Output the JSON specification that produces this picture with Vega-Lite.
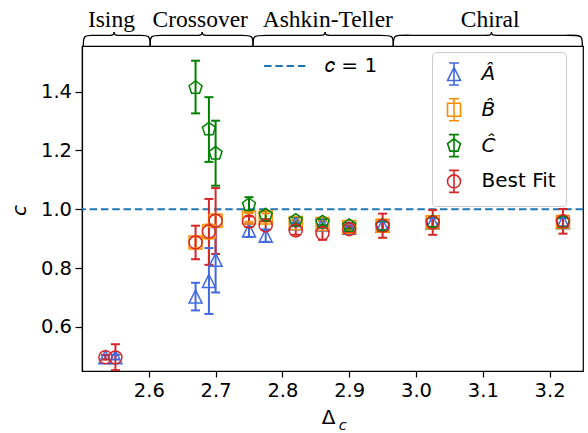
{
  "$schema": "https://vega.github.io/schema/vega-lite/v6.json",
  "width": 501,
  "height": 325,
  "autosize": {"type": "none"},
  "padding": {"left": 82, "top": 46, "right": 5, "bottom": 62},
  "background": "white",
  "datasets": {
    "points": [
      {"series": "Â", "delta": 2.535, "c": 0.497, "lo": 0.490, "hi": 0.504},
      {"series": "Â", "delta": 2.55, "c": 0.497, "lo": 0.489, "hi": 0.505},
      {"series": "Â", "delta": 2.67, "c": 0.703, "lo": 0.656, "hi": 0.750},
      {"series": "Â", "delta": 2.69, "c": 0.756, "lo": 0.644, "hi": 0.868},
      {"series": "Â", "delta": 2.70, "c": 0.828, "lo": 0.717, "hi": 0.939},
      {"series": "Â", "delta": 2.75, "c": 0.928, "lo": 0.906, "hi": 0.950},
      {"series": "Â", "delta": 2.775, "c": 0.910, "lo": 0.889, "hi": 0.931},
      {"series": "Â", "delta": 2.82, "c": 0.952, "lo": 0.942, "hi": 0.962},
      {"series": "Â", "delta": 2.86, "c": 0.948, "lo": 0.937, "hi": 0.959},
      {"series": "Â", "delta": 2.90, "c": 0.937, "lo": 0.927, "hi": 0.947},
      {"series": "Â", "delta": 2.95, "c": 0.944, "lo": 0.930, "hi": 0.958},
      {"series": "Â", "delta": 3.025, "c": 0.955, "lo": 0.940, "hi": 0.970},
      {"series": "Â", "delta": 3.22, "c": 0.956, "lo": 0.942, "hi": 0.970},
      {"series": "B̂", "delta": 2.67, "c": 0.887, "lo": 0.867, "hi": 0.907},
      {"series": "B̂", "delta": 2.69, "c": 0.924, "lo": 0.900, "hi": 0.948},
      {"series": "B̂", "delta": 2.70, "c": 0.961, "lo": 0.940, "hi": 0.982},
      {"series": "B̂", "delta": 2.75, "c": 0.972, "lo": 0.957, "hi": 0.987},
      {"series": "B̂", "delta": 2.775, "c": 0.972, "lo": 0.958, "hi": 0.986},
      {"series": "B̂", "delta": 2.82, "c": 0.953, "lo": 0.943, "hi": 0.963},
      {"series": "B̂", "delta": 2.86, "c": 0.950, "lo": 0.939, "hi": 0.961},
      {"series": "B̂", "delta": 2.90, "c": 0.940, "lo": 0.930, "hi": 0.950},
      {"series": "B̂", "delta": 2.95, "c": 0.944, "lo": 0.925, "hi": 0.963},
      {"series": "B̂", "delta": 3.025, "c": 0.956, "lo": 0.935, "hi": 0.977},
      {"series": "B̂", "delta": 3.22, "c": 0.957, "lo": 0.937, "hi": 0.977},
      {"series": "Ĉ", "delta": 2.67, "c": 1.413, "lo": 1.326, "hi": 1.505},
      {"series": "Ĉ", "delta": 2.69, "c": 1.272, "lo": 1.161, "hi": 1.381},
      {"series": "Ĉ", "delta": 2.70, "c": 1.190, "lo": 1.080, "hi": 1.301},
      {"series": "Ĉ", "delta": 2.75, "c": 1.015, "lo": 0.990, "hi": 1.041},
      {"series": "Ĉ", "delta": 2.775, "c": 0.980, "lo": 0.966, "hi": 0.994},
      {"series": "Ĉ", "delta": 2.82, "c": 0.962, "lo": 0.952, "hi": 0.972},
      {"series": "Ĉ", "delta": 2.86, "c": 0.956, "lo": 0.946, "hi": 0.966},
      {"series": "Ĉ", "delta": 2.90, "c": 0.944, "lo": 0.935, "hi": 0.953},
      {"series": "Ĉ", "delta": 2.95, "c": 0.944, "lo": 0.928, "hi": 0.960},
      {"series": "Ĉ", "delta": 3.025, "c": 0.957, "lo": 0.940, "hi": 0.974},
      {"series": "Ĉ", "delta": 3.22, "c": 0.957, "lo": 0.940, "hi": 0.974},
      {"series": "Best Fit", "delta": 2.535, "c": 0.497, "lo": 0.489, "hi": 0.505},
      {"series": "Best Fit", "delta": 2.55, "c": 0.496, "lo": 0.453, "hi": 0.541},
      {"series": "Best Fit", "delta": 2.67, "c": 0.887, "lo": 0.830, "hi": 0.944},
      {"series": "Best Fit", "delta": 2.69, "c": 0.924, "lo": 0.811, "hi": 1.035},
      {"series": "Best Fit", "delta": 2.70, "c": 0.961, "lo": 0.848, "hi": 1.072},
      {"series": "Best Fit", "delta": 2.75, "c": 0.958, "lo": 0.940, "hi": 0.976},
      {"series": "Best Fit", "delta": 2.775, "c": 0.945, "lo": 0.930, "hi": 0.960},
      {"series": "Best Fit", "delta": 2.82, "c": 0.928, "lo": 0.913, "hi": 0.943},
      {"series": "Best Fit", "delta": 2.86, "c": 0.918, "lo": 0.896, "hi": 0.940},
      {"series": "Best Fit", "delta": 2.90, "c": 0.932, "lo": 0.922, "hi": 0.942},
      {"series": "Best Fit", "delta": 2.95, "c": 0.944, "lo": 0.903, "hi": 0.985},
      {"series": "Best Fit", "delta": 3.025, "c": 0.955, "lo": 0.913, "hi": 0.997},
      {"series": "Best Fit", "delta": 3.22, "c": 0.959, "lo": 0.917, "hi": 1.001}
    ],
    "braces": [
      {"part": "Ising-L", "k": 0, "delta": 2.502, "c": 1.555},
      {"part": "Ising-L", "k": 1, "delta": 2.502, "c": 1.593},
      {"part": "Ising-L", "k": 2, "delta": 2.517, "c": 1.591},
      {"part": "Ising-L", "k": 3, "delta": 2.536, "c": 1.591},
      {"part": "Ising-L", "k": 4, "delta": 2.548, "c": 1.591},
      {"part": "Ising-L", "k": 5, "delta": 2.548, "c": 1.603},
      {"part": "Ising-R", "k": 0, "delta": 2.602, "c": 1.555},
      {"part": "Ising-R", "k": 1, "delta": 2.602, "c": 1.593},
      {"part": "Ising-R", "k": 2, "delta": 2.587, "c": 1.591},
      {"part": "Ising-R", "k": 3, "delta": 2.560, "c": 1.591},
      {"part": "Ising-R", "k": 4, "delta": 2.548, "c": 1.591},
      {"part": "Ising-R", "k": 5, "delta": 2.548, "c": 1.603},
      {"part": "Crossover-L", "k": 0, "delta": 2.602, "c": 1.555},
      {"part": "Crossover-L", "k": 1, "delta": 2.602, "c": 1.593},
      {"part": "Crossover-L", "k": 2, "delta": 2.617, "c": 1.591},
      {"part": "Crossover-L", "k": 3, "delta": 2.668, "c": 1.591},
      {"part": "Crossover-L", "k": 4, "delta": 2.680, "c": 1.591},
      {"part": "Crossover-L", "k": 5, "delta": 2.680, "c": 1.603},
      {"part": "Crossover-R", "k": 0, "delta": 2.756, "c": 1.555},
      {"part": "Crossover-R", "k": 1, "delta": 2.756, "c": 1.593},
      {"part": "Crossover-R", "k": 2, "delta": 2.741, "c": 1.591},
      {"part": "Crossover-R", "k": 3, "delta": 2.692, "c": 1.591},
      {"part": "Crossover-R", "k": 4, "delta": 2.680, "c": 1.591},
      {"part": "Crossover-R", "k": 5, "delta": 2.680, "c": 1.603},
      {"part": "AT-L", "k": 0, "delta": 2.756, "c": 1.555},
      {"part": "AT-L", "k": 1, "delta": 2.756, "c": 1.593},
      {"part": "AT-L", "k": 2, "delta": 2.771, "c": 1.591},
      {"part": "AT-L", "k": 3, "delta": 2.852, "c": 1.591},
      {"part": "AT-L", "k": 4, "delta": 2.864, "c": 1.591},
      {"part": "AT-L", "k": 5, "delta": 2.864, "c": 1.603},
      {"part": "AT-R", "k": 0, "delta": 2.966, "c": 1.555},
      {"part": "AT-R", "k": 1, "delta": 2.966, "c": 1.593},
      {"part": "AT-R", "k": 2, "delta": 2.951, "c": 1.591},
      {"part": "AT-R", "k": 3, "delta": 2.876, "c": 1.591},
      {"part": "AT-R", "k": 4, "delta": 2.864, "c": 1.591},
      {"part": "AT-R", "k": 5, "delta": 2.864, "c": 1.603},
      {"part": "Chiral-L", "k": 0, "delta": 2.966, "c": 1.555},
      {"part": "Chiral-L", "k": 1, "delta": 2.966, "c": 1.593},
      {"part": "Chiral-L", "k": 2, "delta": 2.981, "c": 1.591},
      {"part": "Chiral-L", "k": 3, "delta": 3.101, "c": 1.591},
      {"part": "Chiral-L", "k": 4, "delta": 3.113, "c": 1.591},
      {"part": "Chiral-L", "k": 5, "delta": 3.113, "c": 1.603},
      {"part": "Chiral-R", "k": 0, "delta": 3.249, "c": 1.555},
      {"part": "Chiral-R", "k": 1, "delta": 3.249, "c": 1.593},
      {"part": "Chiral-R", "k": 2, "delta": 3.234, "c": 1.591},
      {"part": "Chiral-R", "k": 3, "delta": 3.125, "c": 1.591},
      {"part": "Chiral-R", "k": 4, "delta": 3.113, "c": 1.591},
      {"part": "Chiral-R", "k": 5, "delta": 3.113, "c": 1.603}
    ],
    "regions": [
      {"name": "Ising", "delta": 2.544},
      {"name": "Crossover", "delta": 2.677},
      {"name": "Ashkin-Teller", "delta": 2.868},
      {"name": "Chiral", "delta": 3.111}
    ]
  },
  "layer": [
    {
      "data": {"name": "braces"},
      "mark": {"type": "line", "interpolate": "basis", "color": "black", "strokeWidth": 1.3},
      "encoding": {
        "x": {
          "field": "delta", "type": "quantitative",
          "scale": {"domain": [2.5, 3.25], "nice": false, "zero": false},
          "axis": {
            "title": "Δ", "values": [2.6, 2.7, 2.8, 2.9, 3.0, 3.1, 3.2], "format": ".1f",
            "titleX": 246, "titleY": 52.5, "titleBaseline": "alphabetic", "titleAlign": "center"
          }
        },
        "y": {
          "field": "c", "type": "quantitative",
          "scale": {"domain": [0.45, 1.555], "nice": false, "zero": false},
          "axis": {
            "title": "c", "values": [0.6, 0.8, 1.0, 1.2, 1.4], "format": ".1f",
            "titleFontStyle": "italic", "titleX": -57, "titleY": 164, "titleAngle": -90,
            "titleBaseline": "alphabetic", "titleAlign": "center",
            "tickSize": 7, "labelPadding": 3.5
          }
        },
        "detail": {"field": "part", "type": "nominal"},
        "order": {"field": "k", "type": "quantitative"}
      }
    },
    {
      "data": {"name": "regions"},
      "mark": {"type": "text", "font": "Liberation Serif", "fontSize": 23.5, "baseline": "alphabetic", "align": "center", "color": "black"},
      "encoding": {
        "x": {"field": "delta", "type": "quantitative"},
        "y": {"datum": 1.62, "type": "quantitative"},
        "text": {"field": "name", "type": "nominal"}
      }
    },
    {
      "data": {"values": [{}]},
      "mark": {"type": "text", "fontSize": 14.5, "fontStyle": "italic", "baseline": "alphabetic", "align": "center", "color": "black"},
      "encoding": {
        "x": {"datum": 2.8904, "type": "quantitative"},
        "y": {"datum": 0.2506, "type": "quantitative"},
        "text": {"value": "c"}
      }
    },
    {
      "data": {"values": [{}]},
      "mark": {"type": "rule", "color": "#1f77b4", "strokeWidth": 2},
      "encoding": {
        "y": {"datum": 1.0, "type": "quantitative"},
        "strokeDash": {
          "datum": "𝑐 = 1",
          "type": "nominal",
          "scale": {"range": [[7.5, 3.8]]},
          "legend": {
            "orient": "none", "legendX": 181, "legendY": -2, "title": null,
            "symbolType": "stroke", "symbolSize": 1764, "symbolStrokeWidth": 2,
            "labelFontSize": 20, "labelOffset": 18, "padding": 0
          }
        }
      }
    },
    {
      "data": {"name": "points"},
      "encoding": {
        "x": {"field": "delta", "type": "quantitative"},
        "color": {
          "field": "series", "type": "nominal",
          "scale": {"domain": ["Â", "B̂", "Ĉ", "Best Fit"], "range": ["#4169e1", "#ff8c00", "#008000", "#d62728"]},
          "legend": {
            "orient": "none", "legendX": 350, "legendY": 6, "title": null,
            "padding": 10, "symbolSize": 484, "symbolStrokeWidth": 1.6, "rowPadding": 5.8,
            "symbolFillColor": "transparent",
            "symbolType": {"expr": "datum.value === 'Â' ? 'M0,-1V1M-0.45,-1H0.45M-0.45,1H0.45M0,-0.59L0.59,0.59L-0.59,0.59Z' : datum.value === 'B̂' ? 'M0,-1V1M-0.45,-1H0.45M-0.45,1H0.45M-0.59,-0.59H0.59V0.59H-0.59Z' : datum.value === 'Ĉ' ? 'M0,-1V1M-0.45,-1H0.45M-0.45,1H0.45M0,-0.62L0.59,-0.19L0.364,0.5L-0.364,0.5L-0.59,-0.19Z' : 'M0,-1V1M-0.45,-1H0.45M-0.45,1H0.45M0.59,0C0.59,0.326 0.326,0.59 0,0.59C-0.326,0.59 -0.59,0.326 -0.59,0C-0.59,-0.326 -0.326,-0.59 0,-0.59C0.326,-0.59 0.59,-0.326 0.59,0Z'"},
            "labelFontStyle": {"expr": "datum.value === 'Best Fit' ? 'normal' : 'italic'"},
            "labelExpr": "datum.label + '\u2002'",
            "labelFontSize": 20, "labelOffset": 15.5, "labelColor": "black",
            "strokeColor": "#cccccc", "fillColor": "rgba(255,255,255,0.8)", "cornerRadius": 4
          }
        }
      },
      "layer": [
        {
          "mark": {"type": "rule", "strokeWidth": 2},
          "encoding": {
            "y": {"field": "lo", "type": "quantitative"},
            "y2": {"field": "hi"}
          }
        },
        {
          "mark": {"type": "point", "shape": "M-1,0H1", "size": 81, "strokeWidth": 2, "filled": false, "opacity": 1},
          "encoding": {"y": {"field": "lo", "type": "quantitative"}}
        },
        {
          "mark": {"type": "point", "shape": "M-1,0H1", "size": 81, "strokeWidth": 2, "filled": false, "opacity": 1},
          "encoding": {"y": {"field": "hi", "type": "quantitative"}}
        },
        {
          "transform": [{"filter": "datum.series === 'Â'"}],
          "mark": {"type": "point", "shape": "M0,-1L1,1L-1,1Z", "size": 169, "strokeWidth": 1.5, "filled": false, "opacity": 1},
          "encoding": {"y": {"field": "c", "type": "quantitative"}}
        },
        {
          "transform": [{"filter": "datum.series === 'B̂'"}],
          "mark": {"type": "point", "shape": "M-1,-1H1V1H-1Z", "size": 169, "strokeWidth": 1.5, "filled": false, "opacity": 1},
          "encoding": {"y": {"field": "c", "type": "quantitative"}}
        },
        {
          "transform": [{"filter": "datum.series === 'Ĉ'"}],
          "mark": {"type": "point", "shape": "M0,-1.05L1,-0.32L0.617,0.85L-0.617,0.85L-1,-0.32Z", "size": 169, "strokeWidth": 1.5, "filled": false, "opacity": 1},
          "encoding": {"y": {"field": "c", "type": "quantitative"}}
        },
        {
          "transform": [{"filter": "datum.series === 'Best Fit'"}],
          "mark": {"type": "point", "shape": "circle", "size": 169, "strokeWidth": 1.5, "filled": false, "opacity": 1},
          "encoding": {"y": {"field": "c", "type": "quantitative"}}
        }
      ]
    }
  ],
  "config": {
    "font": "DejaVu Sans",
    "view": {"stroke": "black", "strokeWidth": 1.2},
    "axis": {
      "grid": false,
      "domainColor": "black",
      "domainWidth": 1.2,
      "tickColor": "black",
      "tickWidth": 1.2,
      "tickSize": 6,
      "labelFont": "DejaVu Sans",
      "labelFontSize": 19.5,
      "labelColor": "black",
      "labelPadding": 4,
      "titleFont": "DejaVu Sans",
      "titleFontSize": 20,
      "titleFontWeight": "normal",
      "titleColor": "black"
    },
    "legend": {
      "labelFont": "DejaVu Sans",
      "labelColor": "black"
    }
  }
}
